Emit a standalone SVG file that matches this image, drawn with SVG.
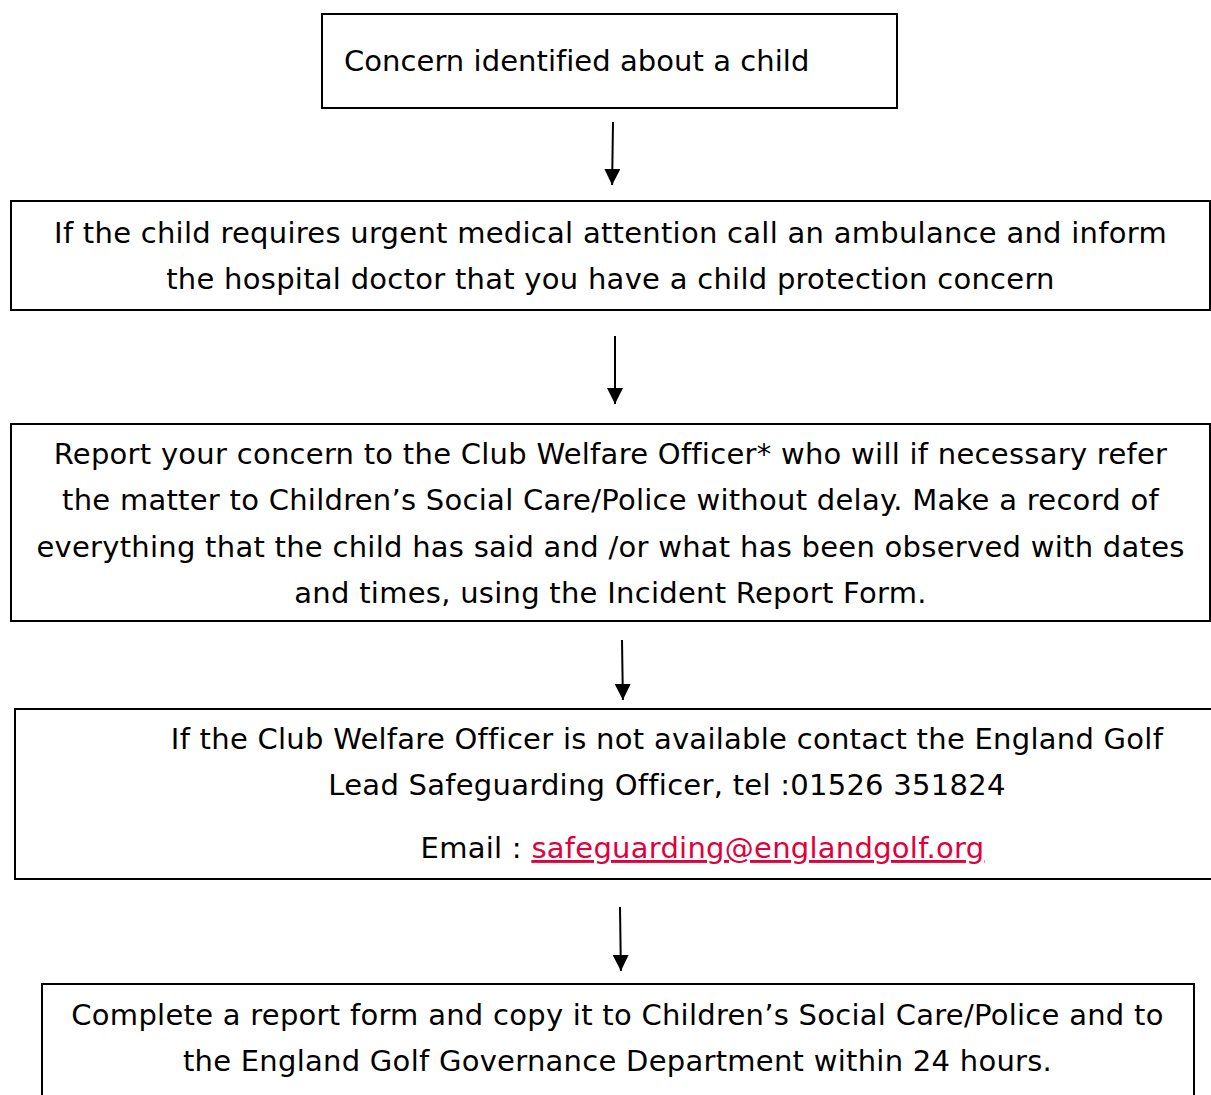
<svg xmlns="http://www.w3.org/2000/svg" width="1211" height="1095" viewBox="0 0 1211 1095">
<style>
.box{fill:#fff;stroke:#000;stroke-width:2}
.t{font-family:"DejaVu Sans","Verdana",sans-serif;font-size:29px;letter-spacing:0.27px;fill:#000}
.c{text-anchor:middle}
.link{fill:#e0003c;text-decoration:underline}
.conn line{stroke:#000;stroke-width:2}
</style>
<defs>
<marker id="ah" markerWidth="8" markerHeight="9" refX="8" refY="4" orient="auto" markerUnits="strokeWidth">
<path d="M0,0 L8,4 L0,8 Z" fill="#000"/>
</marker>
</defs>
<rect width="1211" height="1095" fill="#fff"/>
<g id="n1">
<rect class="box" x="322" y="14" width="575" height="94"/>
<text class="t" x="344" y="71" style="letter-spacing:0.05px">Concern identified about a child</text>
</g>
<g id="n2">
<rect class="box" x="11" y="201" width="1199" height="109"/>
<text class="t c" x="610.5" y="243">If the child requires urgent medical attention call an ambulance and inform</text>
<text class="t c" x="610.5" y="289">the hospital doctor that you have a child protection concern</text>
</g>
<g id="n3">
<rect class="box" x="11" y="424" width="1199" height="197"/>
<text class="t c" x="610.5" y="464">Report your concern to the Club Welfare Officer* who will if necessary refer</text>
<text class="t c" x="610.5" y="510">the matter to Children’s Social Care/Police without delay. Make a record of</text>
<text class="t c" x="610.5" y="557">everything that the child has said and /or what has been observed with dates</text>
<text class="t c" x="610.5" y="603">and times, using the Incident Report Form.</text>
</g>
<g id="n4">
<rect class="box" x="15" y="709" width="1200" height="170"/>
<text class="t c" x="667" y="749">If the Club Welfare Officer is not available contact the England Golf</text>
<text class="t c" x="667" y="795">Lead Safeguarding Officer, tel :01526 351824</text>
<text class="t c" x="702.5" y="858">Email : <tspan class="link">safeguarding@englandgolf.org</tspan></text>
</g>
<g id="n5">
<rect class="box" x="42" y="984" width="1152" height="130"/>
<text class="t c" x="617.5" y="1025">Complete a report form and copy it to Children’s Social Care/Police and to</text>
<text class="t c" x="617.5" y="1071">the England Golf Governance Department within 24 hours.</text>
</g>
<g id="connectors" class="conn">
<line x1="613" y1="122" x2="612.1" y2="185" marker-end="url(#ah)"/>
<line x1="615" y1="336" x2="615" y2="404" marker-end="url(#ah)"/>
<line x1="622" y1="640" x2="622.9" y2="700" marker-end="url(#ah)"/>
<line x1="620" y1="907" x2="620.9" y2="971" marker-end="url(#ah)"/>
</g>
</svg>
